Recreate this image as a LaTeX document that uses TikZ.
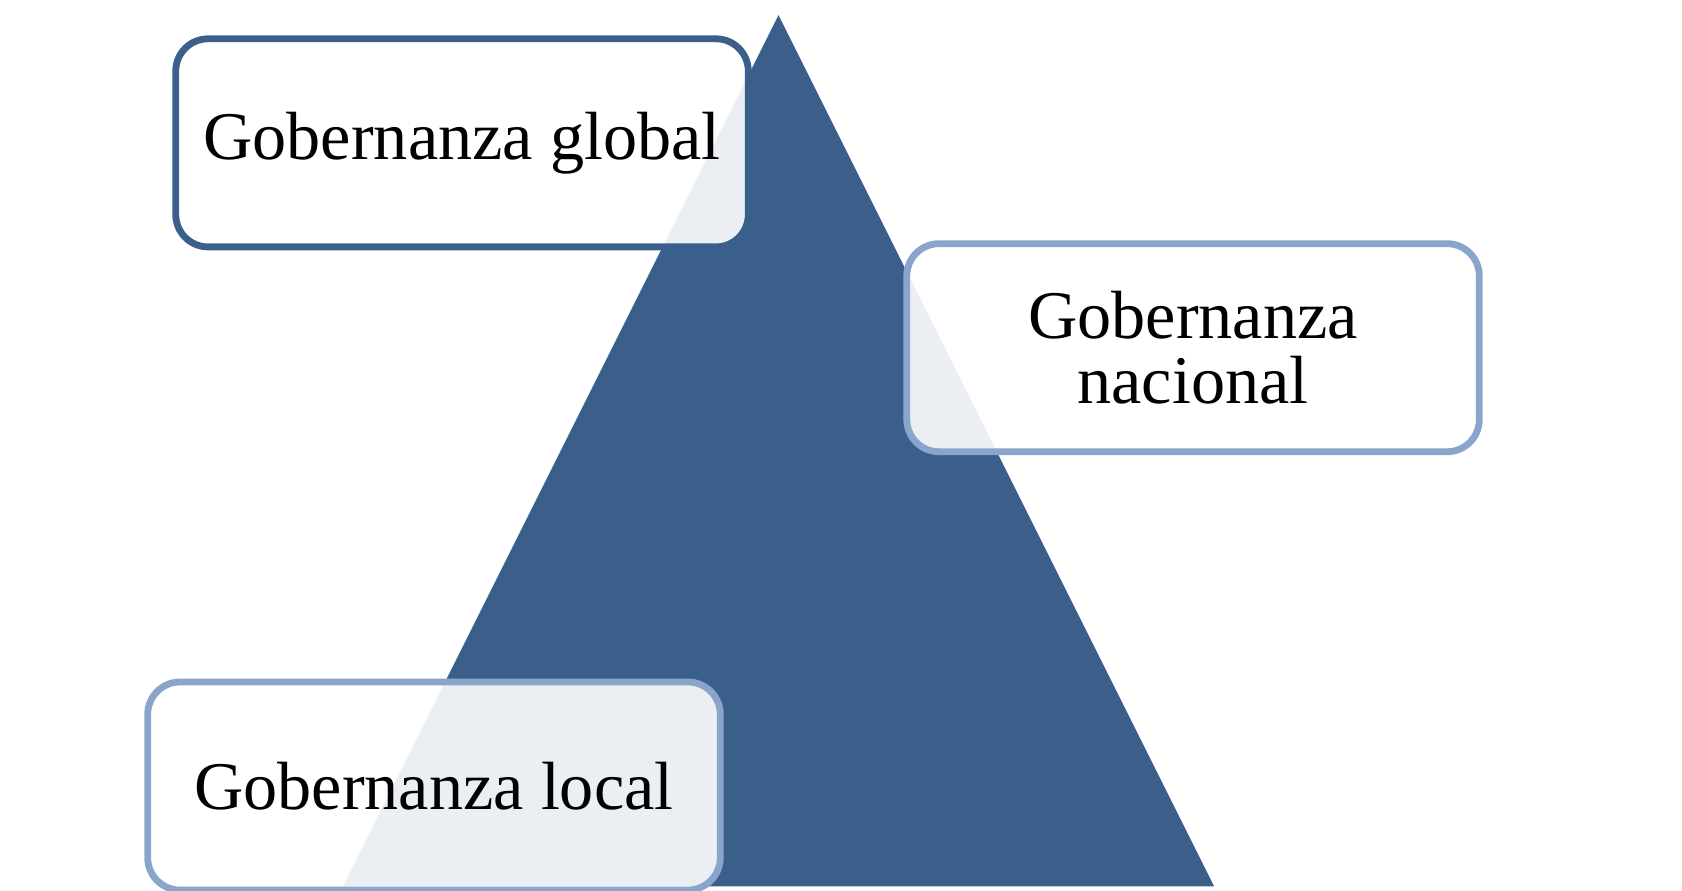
\documentclass[tikz,border=0pt]{standalone}
\usepackage{fontspec}
\setmainfont{Liberation Serif}
\definecolor{pyrblue}{HTML}{3A5F8B}
\definecolor{lightedge}{HTML}{8AA5CB}
\tikzset{
  levelbox/.style={draw, line width=1.8pt, rounded corners=0.3cm, fill=white, fill opacity=0.9,
    text opacity=1, minimum width=5.31cm, minimum height=1.93cm, align=center,
    font=\fontsize{18}{20}\selectfont, inner sep=0pt}
}
\begin{document}
\begin{tikzpicture}[x=1cm,y=1cm]
\useasboundingbox (0,0) rectangle (15.60,8.26);
% pyramid
\fill[pyrblue] (7.22,8.12) -- (11.26,0.04) -- (3.18,0.04) -- cycle;
% levels
\node[levelbox, draw=pyrblue] (global) at (4.285,6.935) {Gobernanza global};
\node[levelbox, draw=lightedge] (nacional) at (11.065,5.035) {Gobernanza\\[-3pt]nacional};
\node[levelbox, draw=lightedge] (local) at (4.025,0.97) {Gobernanza local};
\end{tikzpicture}
\end{document}
